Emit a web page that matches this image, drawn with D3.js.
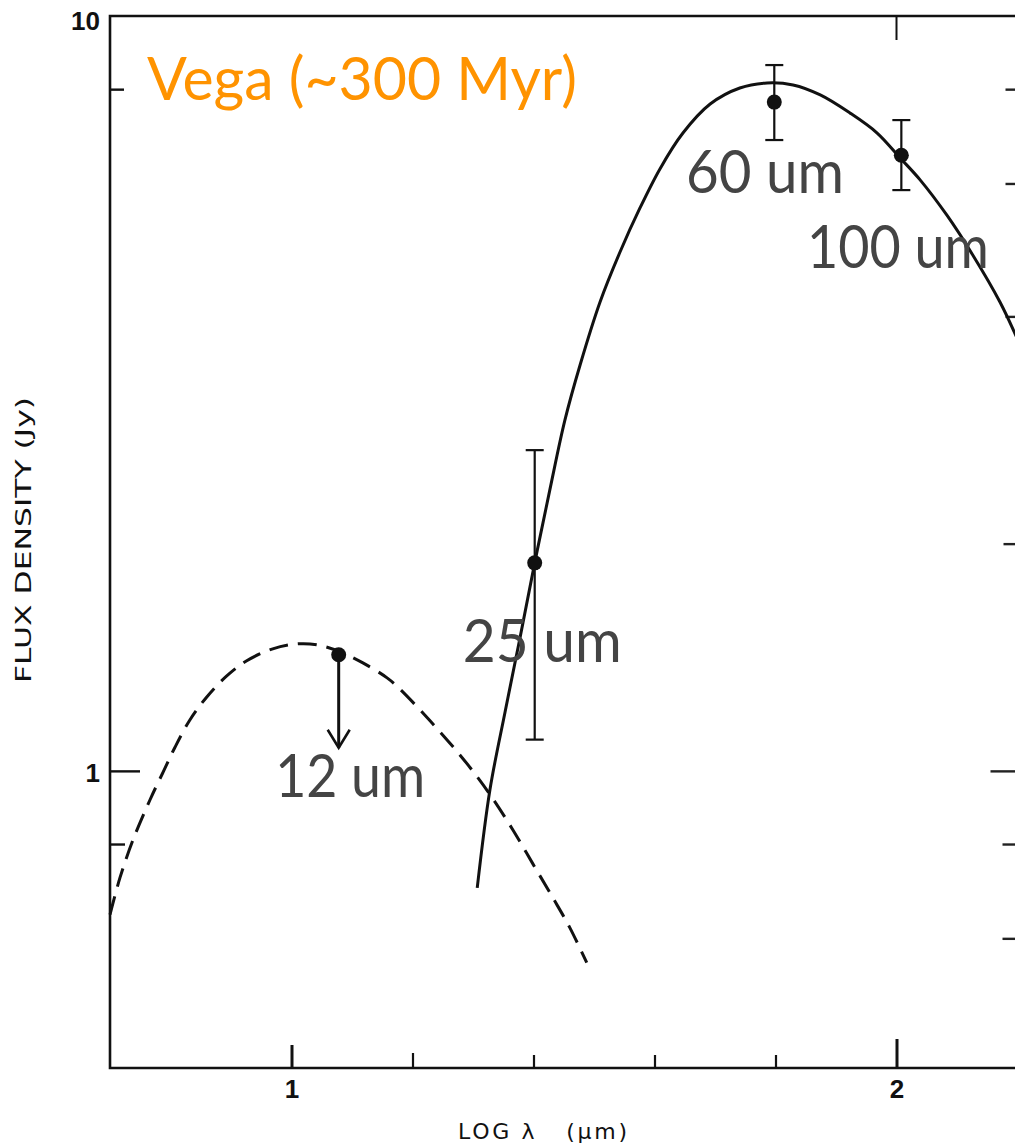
<!DOCTYPE html>
<html>
<head>
<meta charset="utf-8">
<script src="https://cdn.jsdelivr.net/npm/d3@7"></script>
<style>
	body { margin: 0; background: #fff; }
	svg { display: block; }
	.scan { font-family: "DejaVu Sans", "Liberation Sans", sans-serif; fill: #111; white-space: pre; }
	.note { font-family: Lato, "Open Sans", sans-serif; }
</style>
</head>
<body>
<svg width="1015" height="1146"></svg>
<script>
// log lambda ticks along the bottom
const xTicks = [1.0, 1.2, 1.4, 1.6, 1.8, 2.0]
const xTickLabels = ["1", "", "", "", "", "2"]
const xTickLen = [23, 15, 13, 13, 13, 29]

// flux ticks (Jy)
const yTicksLeft = [10, 8, 1, 0.8]
const yTickLabelsLeft = ["10", "", "1", ""]
const yTickLenLeft = [0, 14, 30, 15]
const yTicksRight = [8, 6, 4, 2, 1, 0.8, 0.6]
const yTickLenRight = [12, 12, 12, 14, 27, 15, 15]

// dashed curve
const dashX = [0.700, 0.7165, 0.738, 0.766, 0.788, 0.807, 0.832, 0.860, 0.893, 0.926, 0.969, 1.009, 1.042, 1.080, 1.118, 1.158, 1.179, 1.229, 1.274, 1.307, 1.333, 1.366, 1.399, 1.432, 1.460, 1.488]
const dashY = [0.645, 0.722, 0.810, 0.915, 0.997, 1.073, 1.168, 1.253, 1.336, 1.399, 1.451, 1.473, 1.469, 1.438, 1.390, 1.328, 1.284, 1.165, 1.060, 0.982, 0.918, 0.835, 0.753, 0.679, 0.620, 0.557]

// solid curve
const solidX = [1.307, 1.328, 1.353, 1.378, 1.402, 1.427, 1.452, 1.477, 1.510, 1.543, 1.576, 1.609, 1.647, 1.692, 1.741, 1.786, 1.829, 1.874, 1.923, 1.968, 2.006, 2.039, 2.083, 2.126, 2.171, 2.199]
const solidY = [0.700, 0.944, 1.197, 1.505, 1.886, 2.356, 2.917, 3.449, 4.180, 4.868, 5.568, 6.273, 6.998, 7.645, 8.028, 8.153, 8.103, 7.860, 7.439, 6.998, 6.486, 6.066, 5.450, 4.825, 4.180, 3.746]

// IRAS measurements
const bands = ["12 um", "25 um", "60 um", "100 um"]
const bandX = [1.078, 1.402, 1.798, 2.008]
const bandFlux = [1.425, 1.886, 7.69, 6.54]
const bandHi = [null, 2.66, 8.61, 7.28]
const bandLo = [1.073, 1.10, 6.85, 5.88]
const upperLimit = [true, false, false, false]

// annotation anchors (data coords, text start at baseline)
const noteX = [0.973, 1.283, 1.652, 1.852]
const noteY = [0.924, 1.394, 5.83, 4.64]
const noteWidth = [150, 159, 158, 182]

const title = "Vega (~300 Myr)"

var svg = d3.select("svg"),
	width = +svg.attr("width"),
	height = +svg.attr("height")

var x = d3.scaleLinear().domain([0.7, 2.2]).range([110, 1017.5])
var y = d3.scaleLog().domain([0.404, 10]).range([1068, 16])

var x0 = x.range()[0],
	x1 = x.range()[1],
	y0 = y.range()[0],
	y1 = y.range()[1]

// frame
svg.append("path")
	.attr("d", `M${x1},${y1} L${x0},${y1} L${x0},${y0} L${x1},${y0} Z`)
	.attr("fill", "none")
	.attr("stroke", "#111")
	.attr("stroke-width", 2.6)

// bottom axis
var gx = svg.append("g")
	.attr("transform", `translate(0,${y0})`)
	.call(d3.axisBottom(x).tickValues(xTicks).tickSize(0).tickPadding(12)
		.tickFormat((d, i) => xTickLabels[i]))
gx.select(".domain").remove()
gx.selectAll(".tick line")
	.attr("y2", (d, i) => -xTickLen[i])
	.attr("stroke", "#111")
	.attr("stroke-width", (d, i) => (xTickLabels[i] ? 3 : 2.2))
gx.selectAll(".tick text")
	.attr("font-size", 26)
	.attr("font-weight", "bold")
	.attr("font-family", "Liberation Sans, DejaVu Sans, sans-serif")
	.attr("fill", "#111")

// top tick at 2
svg.append("line")
	.attr("x1", x(2)).attr("x2", x(2))
	.attr("y1", y1).attr("y2", y1 + 24)
	.attr("stroke", "#111").attr("stroke-width", 2)

// left axis
var gy = svg.append("g")
	.attr("transform", `translate(${x0},0)`)
	.call(d3.axisLeft(y).tickValues(yTicksLeft).tickSize(0).tickPadding(10)
		.tickFormat((d, i) => yTickLabelsLeft[i]))
gy.select(".domain").remove()
gy.selectAll(".tick line")
	.attr("x2", (d, i) => yTickLenLeft[i])
	.attr("stroke", "#111")
	.attr("stroke-width", 2.4)
gy.selectAll(".tick text")
	.attr("font-size", 26)
	.attr("font-weight", "bold")
	.attr("font-family", "Liberation Sans, DejaVu Sans, sans-serif")
	.attr("fill", "#111")
	.attr("dy", (d) => (d === 10 ? "0.5em" : "0.4em"))

// right axis ticks, pointing in
var gr = svg.append("g")
	.attr("transform", `translate(${x1},0)`)
	.call(d3.axisRight(y).tickValues(yTicksRight).tickSize(0).tickFormat(""))
gr.select(".domain").remove()
gr.selectAll(".tick line")
	.attr("x2", (d, i) => -yTickLenRight[i])
	.attr("stroke", "#222")
	.attr("stroke-width", 2.4)

// axis titles
svg.append("text")
	.attr("class", "scan")
	.attr("transform", `translate(31,${(397 + 683) / 2}) rotate(-90)`)
	.attr("text-anchor", "middle")
	.attr("font-size", 21)
	.attr("textLength", 286)
	.attr("lengthAdjust", "spacingAndGlyphs")
	.text("FLUX DENSITY (Jy)")

svg.append("text")
	.attr("class", "scan")
	.attr("x", 458)
	.attr("y", 1139)
	.attr("font-size", 22)
	.attr("textLength", 169)
	.attr("lengthAdjust", "spacing")
	.text("LOG λ   (μm)")

// curves
var line = d3.line()
	.x((d) => x(d[0]))
	.y((d) => y(d[1]))
	.curve(d3.curveCatmullRom.alpha(0.5))

svg.append("path")
	.datum(dashX.map((v, i) => [v, dashY[i]]))
	.attr("d", line)
	.attr("fill", "none")
	.attr("stroke", "#111")
	.attr("stroke-width", 3)
	.attr("stroke-dasharray", "19,10")

svg.append("path")
	.datum(solidX.map((v, i) => [v, solidY[i]]))
	.attr("d", line)
	.attr("fill", "none")
	.attr("stroke", "#111")
	.attr("stroke-width", 3)

// measurements
var pts = svg.append("g")
bands.forEach((b, i) => {
	var cx = x(bandX[i])
	var g = pts.append("g").attr("stroke", "#111").attr("fill", "none")
	if (upperLimit[i]) {
		var tip = y(bandLo[i])
		g.append("line").attr("x1", cx).attr("x2", cx)
			.attr("y1", y(bandFlux[i])).attr("y2", tip).attr("stroke-width", 3)
		g.append("path")
			.attr("d", `M${cx - 11},${tip - 18} L${cx},${tip} L${cx + 11},${tip - 18}`)
			.attr("stroke-width", 2.6)
	} else {
		g.append("line").attr("x1", cx).attr("x2", cx)
			.attr("y1", y(bandHi[i])).attr("y2", y(bandLo[i])).attr("stroke-width", 2.2)
		;[bandHi[i], bandLo[i]].forEach((v) => {
			g.append("line").attr("x1", cx - 9).attr("x2", cx + 9)
				.attr("y1", y(v)).attr("y2", y(v)).attr("stroke-width", 2.2)
		})
	}
	pts.append("circle")
		.attr("cx", cx).attr("cy", y(bandFlux[i]))
		.attr("r", 7.5)
		.attr("fill", "#111")
})

// annotations
svg.append("text")
	.attr("class", "note")
	.attr("x", x(0.761))
	.attr("y", y(7.74))
	.attr("font-size", 60)
	.attr("textLength", 430)
	.attr("lengthAdjust", "spacingAndGlyphs")
	.attr("fill", "#ff9300")
	.text(title)

bands.forEach((b, i) => {
	svg.append("text")
		.attr("class", "note")
		.attr("x", x(noteX[i]))
		.attr("y", y(noteY[i]))
		.attr("font-size", 60)
		.attr("textLength", noteWidth[i])
		.attr("lengthAdjust", "spacingAndGlyphs")
		.attr("fill", "#444")
		.text(b)
})
</script>
</body>
</html>
